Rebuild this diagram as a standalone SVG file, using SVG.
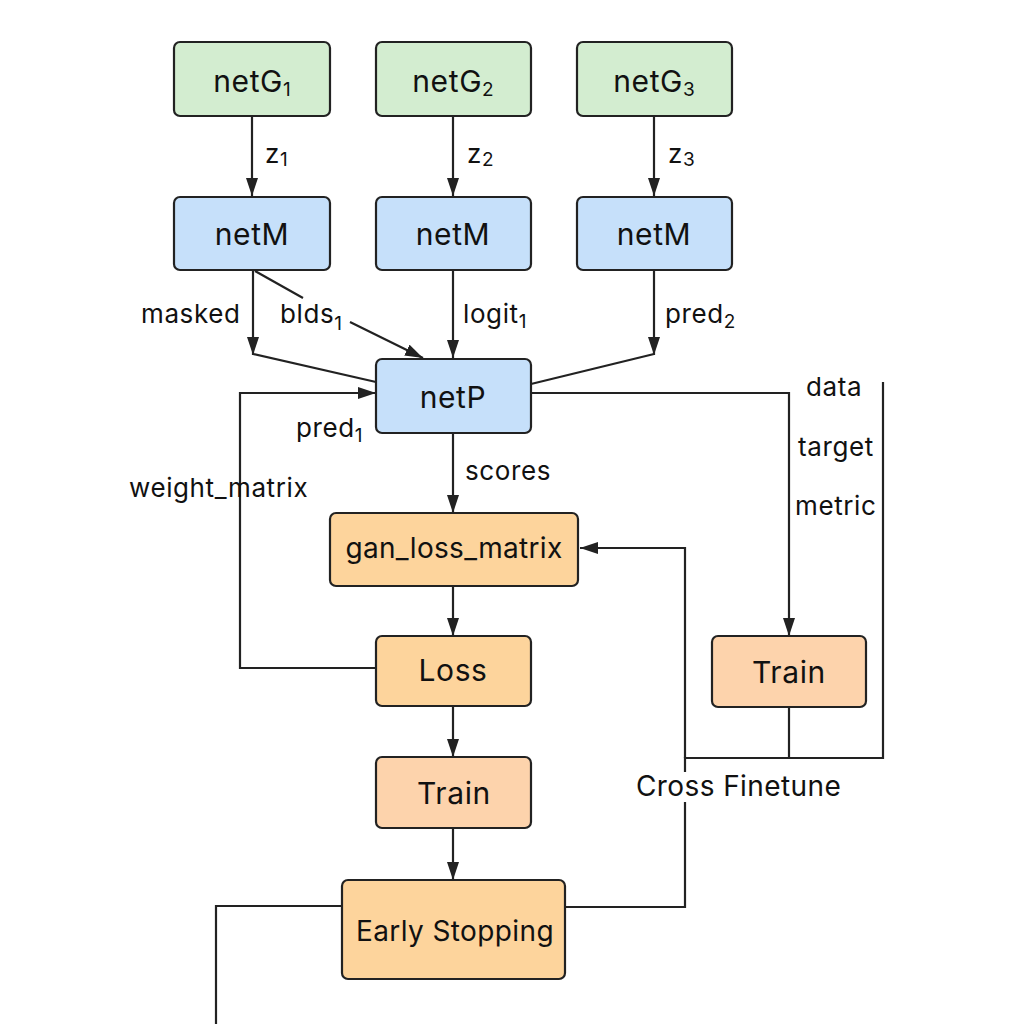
<svg xmlns="http://www.w3.org/2000/svg" width="1024" height="1024" viewBox="0 0 1024 1024">
<defs>
<style>
.bg{fill:#ffffff}
.node rect{stroke:#222;stroke-width:2.2}
.g rect{fill:#d3edd0}
.b rect{fill:#c6e0fa}
.o rect{fill:#fdd49c}
.p rect{fill:#fdd3ac}
.nt{font-family:Inter,"Liberation Sans",sans-serif;font-size:30px;letter-spacing:0.6px;fill:#111;text-anchor:middle}
.lb{font-family:Inter,"Liberation Sans",sans-serif;font-size:26px;letter-spacing:0.6px;fill:#111}
.sub{font-size:19px;letter-spacing:0}
.conn path{fill:none;stroke:#222;stroke-width:2.2}
</style>
<marker id="ah" viewBox="0 0 18 12" refX="18" refY="6" markerWidth="18" markerHeight="12" markerUnits="userSpaceOnUse" orient="auto">
<path d="M0,0 L18,6 L0,12 z" fill="#222"/>
</marker>
</defs>
<rect class="bg" x="0" y="0" width="1024" height="1024"/>

<g class="conn" id="connectors">
<path d="M252,116 L252,196" marker-end="url(#ah)"/>
<path d="M453,116 L453,196" marker-end="url(#ah)"/>
<path d="M654,116 L654,196" marker-end="url(#ah)"/>
<path d="M253,270 L253,355" marker-end="url(#ah)"/>
<path d="M253,354 L376,382"/>
<path d="M255,271 L303,298 M350,322 L423,358" marker-end="url(#ah)"/>
<path d="M453,270 L453,358" marker-end="url(#ah)"/>
<path d="M654,270 L654,355" marker-end="url(#ah)"/>
<path d="M654,354 L531,384"/>
<path d="M376,668 L240,668 L240,393 L376,393" marker-end="url(#ah)"/>
<path d="M531,393 L789,393 L789,636" marker-end="url(#ah)"/>
<path d="M453,433 L453,513" marker-end="url(#ah)"/>
<path d="M453,586 L453,636" marker-end="url(#ah)"/>
<path d="M453,706 L453,757" marker-end="url(#ah)"/>
<path d="M453,828 L453,880" marker-end="url(#ah)"/>
<path d="M883,382 L883,758 L685,758 L685,772"/>
<path d="M789,707 L789,758"/>
<path d="M685,758 L685,548 L580,548" marker-end="url(#ah)"/>
<path d="M685,802 L685,907 L565,907"/>
<path d="M342,906 L216,906 L216,1024"/>
</g>

<g id="netG1" class="node g"><rect x="174" y="42" width="156" height="74" rx="6"/><text class="nt" x="252" y="92">netG<tspan class="sub" dy="4">1</tspan></text></g>
<g id="netG2" class="node g"><rect x="376" y="42" width="155" height="74" rx="6"/><text class="nt" x="453" y="92">netG<tspan class="sub" dy="4">2</tspan></text></g>
<g id="netG3" class="node g"><rect x="577" y="42" width="155" height="74" rx="6"/><text class="nt" x="654" y="92">netG<tspan class="sub" dy="4">3</tspan></text></g>

<g id="netM1" class="node b"><rect x="174" y="197" width="156" height="73" rx="6"/><text class="nt" x="252" y="245">netM</text></g>
<g id="netM2" class="node b"><rect x="376" y="197" width="155" height="73" rx="6"/><text class="nt" x="453" y="245">netM</text></g>
<g id="netM3" class="node b"><rect x="577" y="197" width="155" height="73" rx="6"/><text class="nt" x="654" y="245">netM</text></g>

<g id="netP" class="node b"><rect x="376" y="359" width="155" height="74" rx="6"/><text class="nt" x="453" y="408">netP</text></g>

<g id="gan_loss_matrix" class="node o"><rect x="330" y="513" width="248" height="73" rx="6"/><text class="nt" x="454" y="558" style="font-size:28px;letter-spacing:0.3px">gan_loss_matrix</text></g>
<g id="loss" class="node o"><rect x="376" y="636" width="155" height="70" rx="6"/><text class="nt" x="453" y="681">Loss</text></g>
<g id="train1" class="node p"><rect x="376" y="757" width="155" height="71" rx="6"/><text class="nt" x="454" y="804">Train</text></g>
<g id="early_stopping" class="node o"><rect x="342" y="880" width="223" height="99" rx="6"/><text class="nt" x="455" y="941" style="font-size:28px;letter-spacing:0.4px">Early Stopping</text></g>
<g id="train2" class="node p"><rect x="712" y="636" width="154" height="71" rx="6"/><text class="nt" x="789" y="683">Train</text></g>

<g id="labels">
<text class="lb" x="265" y="163">z<tspan class="sub" dy="3">1</tspan></text>
<text class="lb" x="467" y="163">z<tspan class="sub" dy="3">2</tspan></text>
<text class="lb" x="668" y="163">z<tspan class="sub" dy="3">3</tspan></text>
<text class="lb" x="141" y="323">masked</text>
<text class="lb" x="280" y="323">blds<tspan class="sub" dy="7">1</tspan></text>
<text class="lb" x="463" y="323">logit<tspan class="sub" dy="5">1</tspan></text>
<text class="lb" x="665" y="323">pred<tspan class="sub" dy="5">2</tspan></text>
<text class="lb" x="296" y="437">pred<tspan class="sub" dy="5">1</tspan></text>
<text class="lb" x="129" y="497">weight_matrix</text>
<text class="lb" x="465" y="480">scores</text>
<text class="lb" x="806" y="396">data</text>
<text class="lb" x="798" y="456">target</text>
<text class="lb" x="795" y="515">metric</text>
<text class="lb" x="636" y="796" style="font-size:28px;letter-spacing:0.4px">Cross Finetune</text>
</g>
</svg>
